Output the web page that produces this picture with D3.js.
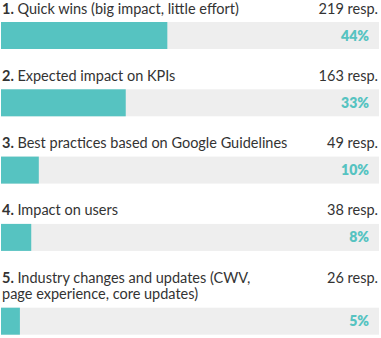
<!DOCTYPE html>
<html>
<head>
<meta charset="utf-8">
<script src="https://cdn.jsdelivr.net/npm/d3@7"></script>
<style>
  html, body { margin: 0; padding: 0; background: #fff; }
  svg { display: block; }
</style>
</head>
<body>
<svg id="chart" width="381" height="338"></svg>
<script>
// Survey answers: ranked factors
const ranks = ["1.", "2.", "3.", "4.", "5."];
const labels = [
  ["Quick wins (big impact, little effort)"],
  ["Expected impact on KPIs"],
  ["Best practices based on Google Guidelines"],
  ["Impact on users"],
  ["Industry changes and updates (CWV,", "page experience, core updates)"]
];
const responses = [219, 163, 49, 38, 26];
const percents = [44, 33, 10, 8, 5];

const left = 1, right = 379;
const barH = 27;
const lineH = 16.5;
const rowStep = 67.3;   // bar top to next bar top for single-line labels
const firstBarTop = 22;
const labelGap = 8.5;   // label baseline to bar top

const svg = d3.select("#chart");
const font = "Lato, 'Noto Sans', sans-serif";
const fs = 14.5;

const x = d3.scaleLinear().domain([0, 100]).range([left, right]);

// vertical layout: label lines above each bar
let prevBar = null;
const rows = labels.map((lines, i) => {
  const extra = (lines.length - 1) * lineH;
  const barTop = prevBar === null ? firstBarTop : prevBar + rowStep + extra;
  prevBar = barTop;
  const labelTop = barTop - labelGap - extra;
  return { i, lines, labelTop, barTop };
});

const g = svg.selectAll("g.row").data(rows).join("g").attr("class", "row");

// track
g.append("rect")
  .attr("x", x(0)).attr("y", d => d.barTop)
  .attr("width", x(100) - x(0)).attr("height", barH)
  .attr("fill", "#eeeeee");

// value bar
g.append("rect")
  .attr("x", x(0)).attr("y", d => d.barTop)
  .attr("width", d => x(percents[d.i]) - x(0)).attr("height", barH)
  .attr("fill", "#56c3c1");

// label text
g.each(function(d) {
  const sel = d3.select(this);
  d.lines.forEach((line, k) => {
    const t = sel.append("text")
      .attr("x", 2).attr("y", d.labelTop + k * lineH)
      .attr("font-family", font).attr("font-size", fs)
      .attr("fill", "#333");
    if (k === 0) {
      t.append("tspan").attr("font-weight", 700).text(ranks[d.i] + " ");
    }
    t.append("tspan").text(line);
  });
});

// response count
g.append("text")
  .attr("x", 378).attr("y", d => d.labelTop)
  .attr("text-anchor", "end")
  .attr("font-family", font).attr("font-size", fs)
  .attr("fill", "#333")
  .text(d => responses[d.i] + " resp.");

// percent label
g.append("text")
  .attr("x", 369).attr("y", d => d.barTop + barH / 2 + 5)
  .attr("text-anchor", "end")
  .attr("font-family", font).attr("font-size", 14).attr("font-weight", 800)
  .attr("fill", "#56c3c1")
  .text(d => percents[d.i] + "%");
</script>
</body>
</html>
